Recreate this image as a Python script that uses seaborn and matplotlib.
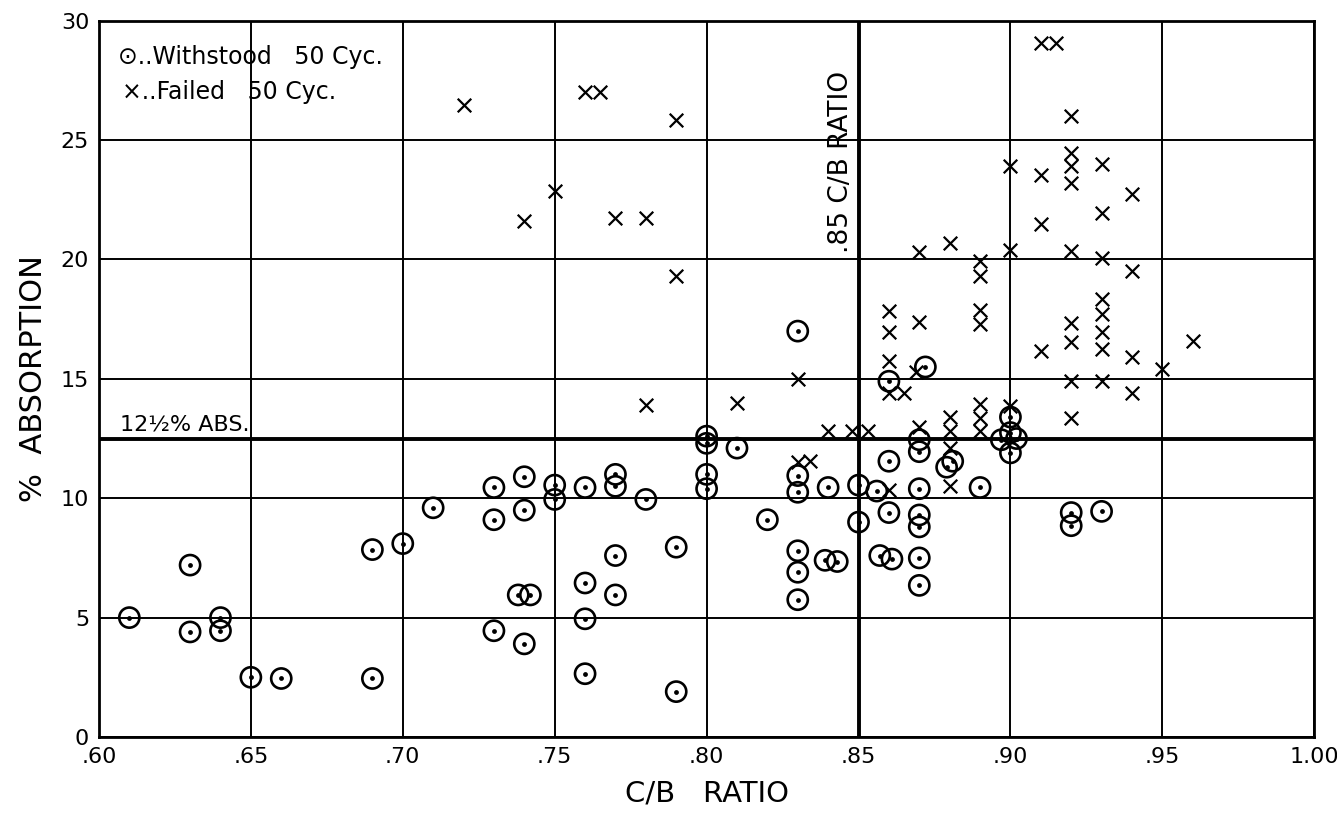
import matplotlib
matplotlib.use("Agg")
import matplotlib.pyplot as plt
import seaborn as sns
import pandas as pd

# ---- data ----
withstood_x = [0.61, 0.63, 0.63, 0.64, 0.64, 0.65, 0.66, 0.69, 0.69, 0.70,
               0.71, 0.73, 0.73, 0.73, 0.74, 0.74, 0.738, 0.742, 0.74, 0.75,
               0.75, 0.76, 0.76, 0.76, 0.76, 0.77, 0.77, 0.77, 0.77, 0.78,
               0.79, 0.79, 0.80, 0.80, 0.80, 0.80, 0.81, 0.82, 0.83, 0.83,
               0.83, 0.83, 0.83, 0.83, 0.84, 0.839, 0.843, 0.85, 0.85, 0.856,
               0.86, 0.86, 0.86, 0.857, 0.861, 0.872, 0.87, 0.87, 0.87, 0.87,
               0.87, 0.87, 0.87, 0.879, 0.881, 0.89, 0.897, 0.90, 0.90, 0.902,
               0.90, 0.92, 0.92, 0.93]
withstood_y = [5.0, 7.2, 4.4, 5.0, 4.45, 2.5, 2.45, 7.85, 2.45, 8.1,
               9.6, 10.45, 9.1, 4.45, 10.9, 9.5, 5.95, 5.95, 3.9, 10.55,
               9.95, 10.45, 6.45, 4.95, 2.65, 11.0, 10.5, 7.6, 5.95, 9.95,
               7.95, 1.9, 12.6, 12.3, 11.0, 10.4, 12.1, 9.1, 17.0, 10.95,
               10.25, 7.8, 6.9, 5.75, 10.45, 7.4, 7.35, 10.55, 9.0, 10.3,
               14.9, 11.55, 9.4, 7.6, 7.45, 15.5, 12.45, 11.95, 10.4, 9.3,
               8.8, 7.5, 6.35, 11.3, 11.55, 10.45, 12.45, 13.4, 12.75, 12.5,
               11.9, 9.4, 8.85, 9.45]

failed_x = [0.72, 0.76, 0.765, 0.79, 0.75, 0.74, 0.77, 0.78, 0.79, 0.78,
            0.81, 0.83, 0.83, 0.834, 0.84, 0.848, 0.853, 0.86, 0.86, 0.86,
            0.86, 0.865, 0.86, 0.87, 0.87, 0.869, 0.87, 0.88, 0.88, 0.88,
            0.88, 0.88, 0.89, 0.89, 0.89, 0.89, 0.89, 0.89, 0.89, 0.90,
            0.90, 0.90, 0.91, 0.915, 0.91, 0.91, 0.91, 0.92, 0.92, 0.92,
            0.92, 0.92, 0.92, 0.92, 0.92, 0.92, 0.93, 0.93, 0.93, 0.93,
            0.93, 0.93, 0.93, 0.93, 0.94, 0.94, 0.94, 0.94, 0.95, 0.96]
failed_y = [26.45, 27.0, 27.0, 25.85, 22.85, 21.6, 21.75, 21.75, 19.3, 13.9,
            14.0, 15.0, 11.5, 11.55, 12.8, 12.8, 12.8, 17.85, 16.95, 15.75,
            14.4, 14.4, 10.35, 20.3, 17.4, 15.3, 13.0, 20.7, 13.4, 12.8,
            12.1, 10.5, 19.95, 19.3, 17.9, 17.3, 13.95, 13.35, 12.8, 23.9,
            20.4, 13.85, 29.05, 29.05, 23.55, 21.5, 16.15, 26.0, 24.45, 23.9,
            23.2, 20.35, 17.35, 16.55, 14.9, 13.35, 24.0, 21.95, 20.05, 18.35,
            17.7, 16.95, 16.25, 14.9, 22.75, 19.5, 15.9, 14.4, 15.4, 16.6]

x_ticks = [0.60, 0.65, 0.70, 0.75, 0.80, 0.85, 0.90, 0.95, 1.00]
x_tick_labels = [".60", ".65", ".70", ".75", ".80", ".85", ".90", ".95", "1.00"]
y_ticks = [0, 5, 10, 15, 20, 25, 30]
cb_limit = 0.85
abs_limit = 12.5

# ---- plotting ----
sns.set_style("white")
plt.rcParams["font.family"] = ["DejaVu Sans"]
plt.rcParams["text.color"] = "black"
plt.rcParams["axes.labelcolor"] = "black"

fig = plt.figure(figsize=(13.37, 8.13), dpi=100)
ax = fig.add_axes([0.074, 0.0935, 0.909, 0.881])

df_w = pd.DataFrame({"cb": withstood_x, "abs": withstood_y})
df_f = pd.DataFrame({"cb": failed_x, "abs": failed_y})

# grid
for xv in x_ticks:
    ax.axvline(xv, color="black", lw=1.4, zorder=1)
for yv in y_ticks:
    ax.axhline(yv, color="black", lw=1.4, zorder=1)
ax.axvline(cb_limit, color="black", lw=2.8, zorder=1)
ax.axhline(abs_limit, color="black", lw=2.8, zorder=1)

sns.scatterplot(data=df_w, x="cb", y="abs", ax=ax, marker="o", s=210,
                facecolor="none", edgecolor="black", linewidth=1.9, zorder=3)
sns.scatterplot(data=df_w, x="cb", y="abs", ax=ax, marker="o", s=12,
                color="black", edgecolor="black", linewidth=0, zorder=4)
sns.scatterplot(data=df_f, x="cb", y="abs", ax=ax, marker="x", s=95,
                color="black", linewidth=1.6, zorder=3)

ax.set_xlim(0.60, 1.00)
ax.set_ylim(0, 30)
ax.set_xticks(x_ticks)
ax.set_xticklabels(x_tick_labels)
ax.set_yticks(y_ticks)
ax.tick_params(axis="both", length=0, labelsize=16, colors="black")
ax.tick_params(axis="x", pad=7)
ax.tick_params(axis="y", pad=7)

for sp in ax.spines.values():
    sp.set_color("black")
    sp.set_linewidth(2.0)
    sp.set_visible(True)

ax.set_xlabel("C/B   RATIO", fontsize=21, labelpad=9)
ax.set_ylabel("%  ABSORPTION", fontsize=22, labelpad=9)

# annotations
ax.text(0.607, 12.65, "12½% ABS.", fontsize=16, ha="left", va="bottom")
ax.annotate(".85 C/B RATIO", xy=(cb_limit, 24.1), xytext=(-3, 0),
            textcoords="offset points", rotation=90, ha="right", va="center",
            fontsize=19)
ax.text(0.0155, 0.95, "⊙..Withstood   50 Cyc.", transform=ax.transAxes,
        fontsize=17, ha="left", va="center")
ax.text(0.019, 0.90, "×..Failed   50 Cyc.", transform=ax.transAxes,
        fontsize=17, ha="left", va="center")

fig.savefig("out.png", dpi=100, facecolor="white")
